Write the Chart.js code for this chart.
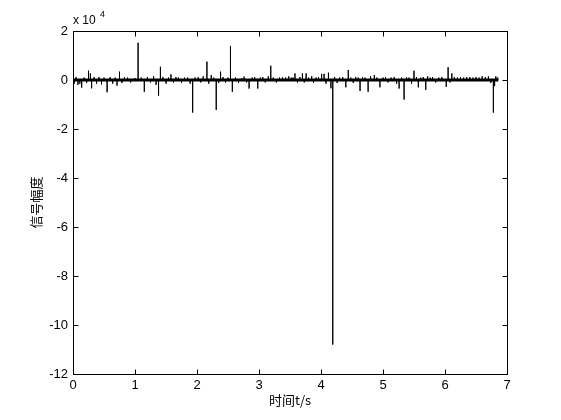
<!DOCTYPE html>
<html>
<head>
<meta charset="utf-8">
<script src="https://cdn.jsdelivr.net/npm/chart.js@4/dist/chart.umd.min.js"></script>
<style>
  body { margin: 0; background: #fff; }
  #wrap { width: 561px; height: 420px; }
</style>
</head>
<body>
<div id="wrap"><canvas id="sigChart"></canvas></div>
<script>
// spike times (s) and amplitudes
const spikeTimes = [
  0.02, 0.05, 0.08, 0.11, 0.14, 0.18, 0.22, 0.25, 0.28, 0.30, 0.34, 0.38, 0.42, 0.46, 0.50,
  0.55, 0.60, 0.64, 0.68, 0.71, 0.75, 0.79, 0.83, 0.88, 0.93, 1.00, 1.05, 1.10, 1.15, 1.20,
  1.25, 1.30, 1.34, 1.38, 1.41, 1.45, 1.50, 1.54, 1.58, 1.62, 1.66, 1.70, 1.75, 1.80, 1.85,
  1.89, 1.93, 1.97, 2.02, 2.06, 2.10, 2.16, 2.19, 2.23, 2.27, 2.31, 2.35, 2.38, 2.42, 2.46,
  2.50, 2.54, 2.57, 2.62, 2.67, 2.72, 2.76, 2.80, 2.84, 2.89, 2.93, 2.98, 3.02, 3.06, 3.10,
  3.15, 3.19, 3.23, 3.28, 3.33, 3.38, 3.43, 3.48, 3.52, 3.55, 3.58, 3.62, 3.66, 3.70, 3.73,
  3.76, 3.80, 3.85, 3.88, 3.92, 3.96, 4.01, 4.05, 4.08, 4.12, 4.16, 4.19, 4.22, 4.26, 4.30,
  4.35, 4.40, 4.44, 4.48, 4.52, 4.56, 4.60, 4.63, 4.67, 4.71, 4.76, 4.80, 4.86, 4.90, 4.95,
  5.00, 5.04, 5.08, 5.13, 5.18, 5.22, 5.26, 5.30, 5.34, 5.38, 5.42, 5.46, 5.50, 5.54, 5.57,
  5.61, 5.65, 5.69, 5.72, 5.76, 5.80, 5.85, 5.90, 5.95, 6.02, 6.05, 6.08, 6.11, 6.15, 6.20,
  6.25, 6.30, 6.35, 6.40, 6.45, 6.50, 6.55, 6.60, 6.65, 6.70, 6.74, 6.78, 6.80, 6.82, 6.85
];
const spikeValues = [
  -1500, 1200, -2000, -1500, -3100, 1000, -1200, 3800, 2700, -3400, 1200, -1500, 1200, -1800, 1000,
  -5000, 1200, -1500, 1000, -2300, 3400, -1200, 1200, 1000, -1000, 800, 15200, 1000, -4800, 1200,
  -1000, 1500, -2000, -6400, 5400, 1200, -1500, 1000, 2300, -1000, 1200, 1000, -1200, 1000, 1000,
  -1500, -13300, 1000, 1200, -1000, 1500, 7500, -1500, 2000, 1000, -12200, -1200, 3400, 1200, -1000,
  1000, 13900, -4800, 1000, -1200, 800, 1400, -1000, -3500, 1000, 1200, -3500, 1000, 1200, -1000,
  1500, 5800, 1000, -1000, 1000, 1200, 1000, 1500, 1000, 1000, 2700, -1000, 1200, 2700, -1000,
  2700, 1000, 1600, -1200, 1000, 1200, 2500, 2500, -1500, 3000, -3400, -108000, 1200, -1200, 1000,
  1200, -3000, 4100, 1000, -1200, 1200, 1000, -4500, 1200, 1000, -4800, 1500, 2000, 1000, -3000,
  1000, 1200, -1000, 1000, 1200, -1500, -3500, 1000, -8000, 1200, 1000, -1500, 3800, 1200, -3000,
  1000, 1200, -4000, 1500, 1000, 1200, -1000, 1000, 1200, -2800, 5200, -1000, 2700, 1200, 1000,
  1200, 1000, 1200, 1200, 1000, 1200, 1000, 1500, 1200, 1500, -1200, -13300, -2500, 1500, 1000
];
const signalStart = 0;
const signalEnd = 6.86;
const xTicks = [0, 1, 2, 3, 4, 5, 6, 7];
const yTicks = [20000, 0, -20000, -40000, -60000, -80000, -100000, -120000];

// each spike goes out from zero and back again
const signalPoints = [];
spikeTimes.forEach((t, i) => {
  signalPoints.push({x: t, y: 0}, {x: t, y: spikeValues[i]}, {x: t, y: 0});
});

const matlabFrame = {
  id: 'matlabFrame',
  afterDraw(chart) {
    const {ctx, chartArea: a, scales: {x, y}} = chart;
    const L = Math.round(a.left) + 0.5, R = Math.round(a.right) + 0.5;
    const T = Math.round(a.top) + 0.5, B = Math.round(a.bottom) + 0.5;
    ctx.save();
    ctx.strokeStyle = '#000';
    ctx.lineWidth = 1;
    ctx.strokeRect(L, T, R - L, B - T);
    ctx.beginPath();
    xTicks.forEach(v => {
      const px = Math.round(x.getPixelForValue(v)) + 0.5;
      ctx.moveTo(px, B); ctx.lineTo(px, B - 5);
      ctx.moveTo(px, T); ctx.lineTo(px, T + 5);
    });
    yTicks.forEach(v => {
      const py = Math.round(y.getPixelForValue(v)) + 0.5;
      ctx.moveTo(L, py); ctx.lineTo(L + 5, py);
      ctx.moveTo(R, py); ctx.lineTo(R - 5, py);
    });
    ctx.stroke();
    // exponent label
    ctx.fillStyle = '#000';
    ctx.textBaseline = 'alphabetic';
    ctx.font = '12px "Liberation Sans", Arial, sans-serif';
    ctx.fillText('x 10', a.left, a.top - 7);
    ctx.font = '9px "Liberation Sans", Arial, sans-serif';
    ctx.fillText('4', a.left + 27, a.top - 14);
    ctx.restore();
  }
};

new Chart(document.getElementById('sigChart'), {
  type: 'line',
  data: {
    datasets: [
      {
        data: [{x: signalStart, y: 0}, {x: signalEnd, y: 0}],
        borderColor: '#000',
        borderWidth: 3,
        pointRadius: 0
      },
      {
        data: signalPoints,
        borderColor: '#000',
        borderWidth: 1,
        pointRadius: 0,
        tension: 0
      }
    ]
  },
  options: {
    responsive: true,
    maintainAspectRatio: false,
    animation: false,
    layout: { padding: { top: 31, right: 54, bottom: 0, left: 0 } },
    plugins: {
      legend: { display: false },
      tooltip: { enabled: false }
    },
    scales: {
      x: {
        type: 'linear',
        min: 0,
        max: 7,
        afterFit: s => { s.height = 46; },
        afterBuildTicks: s => { s.ticks = xTicks.map(v => ({value: v})); },
        grid: { display: false, drawTicks: false },
        border: { display: false },
        ticks: {
          padding: 4,
          color: '#000',
          font: { family: '"Liberation Sans", Arial, sans-serif', size: 13 }
        },
        title: {
          display: true,
          text: '时间t/s',
          color: '#000',
          padding: { top: 0, bottom: 12 },
          font: { family: '"Noto Sans CJK SC", sans-serif', size: 13 }
        }
      },
      y: {
        min: -120000,
        max: 20000,
        afterFit: s => { s.width = 73; },
        afterBuildTicks: s => { s.ticks = yTicks.map(v => ({value: v})); },
        grid: { display: false, drawTicks: false },
        border: { display: false },
        ticks: {
          padding: 5,
          color: '#000',
          font: { family: '"Liberation Sans", Arial, sans-serif', size: 13 },
          callback: v => String(v / 10000)
        },
        title: {
          display: true,
          text: '信号幅度',
          color: '#000',
          padding: { top: 28, bottom: 0 },
          font: { family: '"Noto Sans CJK SC", sans-serif', size: 13 }
        }
      }
    }
  },
  plugins: [matlabFrame]
});
</script>
</body>
</html>
